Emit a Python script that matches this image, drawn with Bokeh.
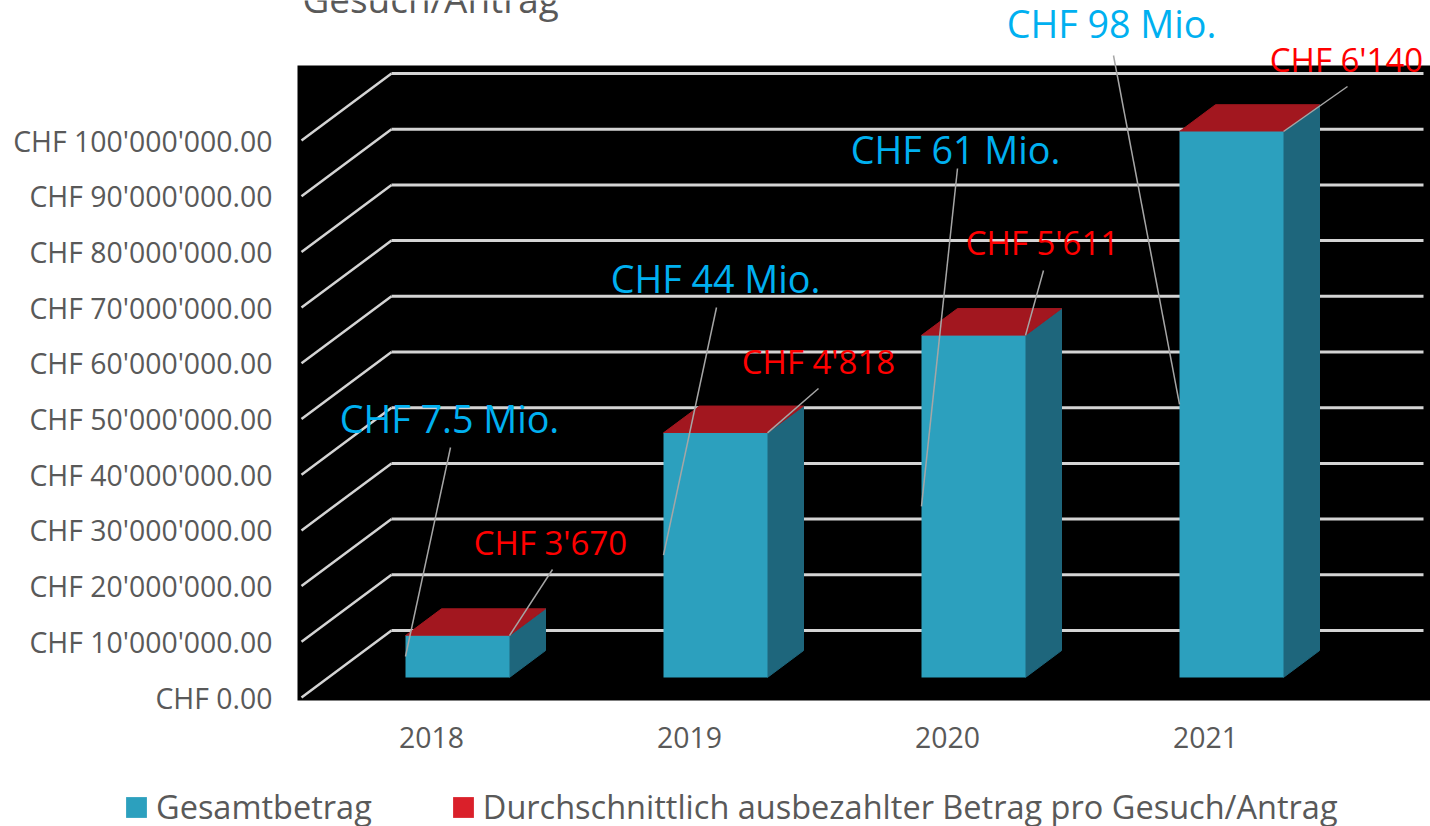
from bokeh.plotting import figure
from bokeh.embed import file_html
from bokeh.resources import INLINE
from bokeh.core.properties import value
from bokeh.models import Range1d, FixedTicker, Legend, LegendItem

# ---- data ----
years = ["2018", "2019", "2020", "2021"]
totals = [7.5e6, 43.9e6, 61.4e6, 98e6]
averages = [3670, 4818, 5611, 6140]
total_labels = ["CHF 7.5 Mio.", "CHF 44 Mio.", "CHF 61 Mio.", "CHF 98 Mio."]
avg_labels = ["CHF 3'670", "CHF 4'818", "CHF 5'611", "CHF 6'140"]
y_ticks = [i * 10_000_000 for i in range(11)]
y_tick_labels = ["CHF 0.00", "CHF 10'000'000.00", "CHF 20'000'000.00", "CHF 30'000'000.00",
                 "CHF 40'000'000.00", "CHF 50'000'000.00", "CHF 60'000'000.00",
                 "CHF 70'000'000.00", "CHF 80'000'000.00", "CHF 90'000'000.00",
                 "CHF 100'000'000.00"]
series_names = ["Gesamtbetrag", "Durchschnittlich ausbezahlter Betrag pro Gesuch/Antrag"]
title_text = "Gesuch/Antrag"

# ---- page geometry (screen px of the 1430x826 window) ----
FONT = "Open Sans"
GREY = "#595959"
W, H = 1430, 826
PX_X0, PX_Y0 = 431, 697          # screen position of category 0 / value 0 in the front plane
PX_PER_CAT = 258
PX_PER_VAL = 5.57e-6             # pixels per CHF
WALL_L, WALL_R, WALL_T, WALL_B = 297, W, 65, 700

def data_x(px):
    return (px - PX_X0) / PX_PER_CAT

def data_y(px):
    return (PX_Y0 - px) / PX_PER_VAL

DEPTH_X = 90 / PX_PER_CAT        # depth of the 3D box in axis units
DEPTH_Y = 67 / PX_PER_VAL
BAR_W = 104 / PX_PER_CAT
NEAR_X, NEAR_Y = 26 / 90, 0.30   # where the bars sit in the depth of the box

# the frame fills the canvas, so that the labels above the black box are not clipped
p = figure(width=W, height=H, output_backend="svg", toolbar_location=None,
           x_range=Range1d(data_x(0), data_x(W)),
           y_range=Range1d(data_y(H), data_y(0)),
           min_border=0, background_fill_color="#ffffff", border_fill_color="#ffffff",
           outline_line_color=None)
p.grid.visible = False

# black box behind the chart
p.quad(left=[data_x(WALL_L)], right=[data_x(WALL_R)], bottom=[data_y(WALL_B)], top=[data_y(WALL_T)],
       fill_color="#000000", line_color=None)

# axes
p.yaxis.ticker = FixedTicker(ticks=y_ticks)
p.yaxis.major_label_overrides = dict(zip(y_ticks, y_tick_labels))
p.xaxis.ticker = FixedTicker(ticks=list(range(len(years))))
p.xaxis.major_label_overrides = dict(enumerate(years))
p.yaxis.fixed_location = data_x(WALL_L)
p.xaxis.fixed_location = data_y(WALL_B)
for ax, standoff in ((p.yaxis, 25), (p.xaxis, 26)):
    ax.axis_line_color = None
    ax.major_tick_line_color = None
    ax.minor_tick_line_color = None
    ax.major_tick_in = 0
    ax.major_tick_out = 0
    ax.major_label_standoff = standoff
    ax.major_label_text_font = FONT
    ax.major_label_text_font_size = "28.4px"
    ax.major_label_text_color = GREY

# gridlines: along the floor/side, then along the back wall
x_left = data_x(301)
x_right = data_x(1423)
p.multi_line([[x_left, x_left + DEPTH_X] for _ in y_ticks],
             [[t, t + DEPTH_Y] for t in y_ticks],
             line_color="#d4d4d4", line_width=2.5)
p.multi_line([[x_left + DEPTH_X, x_right] for _ in y_ticks],
             [[t + DEPTH_Y, t + DEPTH_Y] for t in y_ticks],
             line_color="#d4d4d4", line_width=3)

# bars
dx_near, dy_near = NEAR_X * DEPTH_X, NEAR_Y * DEPTH_Y
dx_bar, dy_bar = 0.40 * DEPTH_X, 0.40 * DEPTH_Y
lefts = [i + dx_near - BAR_W / 2 for i in range(len(years))]
rights = [l + BAR_W for l in lefts]
bases = [dy_near] * len(years)
tops = [dy_near + t for t in totals]
stack_tops = [t + a for t, a in zip(tops, averages)]

side_xs = [[r, r + dx_bar, r + dx_bar, r] for r in rights]
side_ys = [[b, b + dy_bar, t + dy_bar, t] for b, t in zip(bases, stack_tops)]
top_xs = [[l, r, r + dx_bar, l + dx_bar] for l, r in zip(lefts, rights)]
top_ys = [[t, t, t + dy_bar, t + dy_bar] for t in stack_tops]

p.patches(side_xs, side_ys, fill_color="#1e667c", line_color="#1e667c", line_width=1)
p.patches(top_xs, top_ys, fill_color="#a2171f", line_color="#a2171f", line_width=1)
blue = p.quad(left=lefts, right=rights, bottom=bases, top=tops,
              fill_color="#2ca0be", line_color=None)
red = p.quad(left=lefts, right=rights, bottom=tops, top=stack_tops,
             fill_color="#da202a", line_color=None)

# leader lines: label end -> mid-left of the bar front / top-right of the bar front
blue_ends = [(450, 447), (716, 307), (957, 168), (1113, 55)]
red_ends = [(552, 569), (818, 388), (1043, 270), (1347, 86)]
p.segment(x0=[data_x(e[0]) for e in blue_ends + red_ends],
          y0=[data_y(e[1]) for e in blue_ends + red_ends],
          x1=lefts + rights,
          y1=[(b + t) / 2 for b, t in zip(bases, tops)] + stack_tops,
          line_color="#a6a6a6", line_width=1.5)

# data labels
blue_pos = [(449, 418), (715, 278), (955, 149), (1111, 23)]
red_pos = [(550, 542), (818, 361), (1042, 242), (1346, 59)]
for texts, pos, color, size in ((total_labels, blue_pos, "#00b0f0", "37.7px"),
                                (avg_labels, red_pos, "#ff0000", "33px")):
    p.text(x=[data_x(a) for a, _ in pos], y=[data_y(b) for _, b in pos], text=texts,
           text_align="center", text_baseline="middle", text_color=color,
           text_font=value(FONT), text_font_size=size)

# the visible end of the title, which the reference cuts off at the top edge
p.text(x=[data_x(302)], y=[data_y(-2)], text=[title_text], text_font=value(FONT),
       text_font_size="36.9px", text_color=GREY, text_baseline="alphabetic", text_align="left")

# legend
legend = Legend(items=[LegendItem(label=series_names[0], renderers=[blue]),
                       LegendItem(label=series_names[1], renderers=[red])],
                orientation="horizontal", location=(123, -3),
                background_fill_alpha=0, border_line_color=None, margin=0, padding=0,
                glyph_width=26, glyph_height=26, label_standoff=7, spacing=78,
                label_text_font=FONT, label_text_font_size="32.5px",
                label_text_color=GREY)
p.add_layout(legend)

open("out.html", "w").write(file_html(p, INLINE))
